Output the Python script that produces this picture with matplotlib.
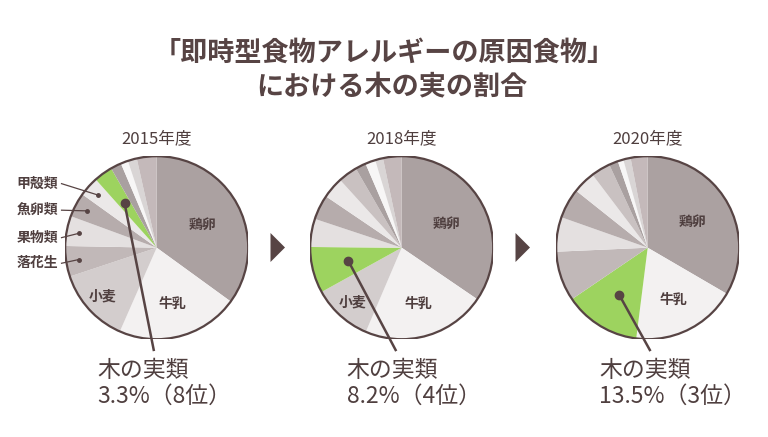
import matplotlib
matplotlib.use("Agg")
import matplotlib.pyplot as plt
from matplotlib.patches import Circle, Polygon
import numpy as np

plt.rcParams['font.family'] = ['Noto Sans CJK JP', 'DejaVu Sans']

W, H = 768, 437
brown = "#574444"
text_col = "#4f3f3f"
green = "#9dd35f"

title_1 = "「即時型食物アレルギーの原因食物」"
title_2 = "における木の実の割合"
years = ["2015年度", "2018年度", "2020年度"]

# slices in ranking order, clockwise from 12 o'clock (last four are unlabeled in the chart)
cats_2015 = ["鶏卵", "牛乳", "小麦", "落花生", "果物類", "魚卵類", "甲殻類", "木の実類", "魚類", "ソバ", "大豆", "その他"]
vals_2015 = [35.0, 21.6, 13.3, 5.4, 5.3, 4.3, 3.5, 3.3, 1.9, 1.3, 1.6, 3.5]

cats_2018 = ["鶏卵", "牛乳", "小麦", "木の実類", "落花生", "魚卵類", "果物類", "甲殻類", "魚類", "ソバ", "大豆", "その他"]
vals_2018 = [34.7, 22.0, 10.6, 8.2, 5.0, 4.4, 3.8, 3.4, 1.9, 1.8, 1.4, 3.3]

cats_2020 = ["鶏卵", "牛乳", "木の実類", "小麦", "落花生", "魚卵類", "果物類", "甲殻類", "魚類", "ソバ", "大豆", "その他"]
vals_2020 = [33.4, 18.6, 13.5, 8.8, 6.1, 5.3, 4.0, 3.4, 1.6, 1.0, 1.3, 3.0]

inner_2015 = ["鶏卵", "牛乳", "小麦"]
inner_2018 = ["鶏卵", "牛乳", "小麦"]
inner_2020 = ["鶏卵", "牛乳"]
outer_2015 = ["甲殻類", "魚卵類", "果物類", "落花生"]

# colour by slice position, the nut slice is overridden with green
palette = ["#aba1a1", "#f3f1f1", "#d3cdcd", "#c1b8b8", "#e4e0e0", "#b6acac",
           "#ebe8e8", "#c9c1c1", "#a9a0a0", "#f7f6f6", "#d9d5d5", "#c4b9ba"]

# layout (pixels)
centers_x = [156.7, 401.7, 647.7]
center_y = 247.7
radius = 91.5
inner_dist = {"鶏卵": 0.56, "牛乳": 0.64, "小麦": 0.8}
outer_text_y = [0.70, 0.41, 0.11, -0.17]
lead_end_dx = [-0.03, -0.06, 0.03]
note_x = [-0.65, -0.60, -0.53]

fig = plt.figure(figsize=(W / 100, H / 100), dpi=100)
fig.patch.set_facecolor("white")

fig.text(384 / W, 1 - 53 / H, title_1, ha="center", va="center",
         fontsize=19.5, fontweight="bold", color=brown)
fig.text(392 / W, 1 - 87 / H, title_2, ha="center", va="center",
         fontsize=19.5, fontweight="bold", color=brown)

all_cats = [cats_2015, cats_2018, cats_2020]
all_vals = [vals_2015, vals_2018, vals_2020]
all_inner = [inner_2015, inner_2018, inner_2020]

for i in range(3):
    cats, vals = all_cats[i], all_vals[i]
    cx = centers_x[i]
    ax = fig.add_axes([(cx - radius) / W, (H - center_y - radius) / H,
                       2 * radius / W, 2 * radius / H])
    cols = [green if c == "木の実類" else palette[k] for k, c in enumerate(cats)]
    wedges, _ = ax.pie(vals, colors=cols, startangle=90, counterclock=False,
                       radius=1, wedgeprops=dict(linewidth=0))
    ax.add_patch(Circle((0, 0), 1, fill=False, ec=brown, lw=1.6, zorder=5))
    ax.set_aspect("equal")
    ax.set_xlim(-1, 1)
    ax.set_ylim(-1, 1)
    ax.axis("off")

    ax.text(0, 1.19, years[i], ha="center", va="center", fontsize=12,
            color=text_col)

    def mid(name):
        w = wedges[cats.index(name)]
        return np.deg2rad((w.theta1 + w.theta2) / 2)

    for name in all_inner[i]:
        a = mid(name)
        d = inner_dist[name]
        ax.text(d * np.cos(a), d * np.sin(a), name, ha="center", va="center",
                fontsize=10, fontweight="bold", color=text_col)

    if i == 0:
        for name, ty in zip(outer_2015, outer_text_y):
            a = mid(name)
            ex, ey = 0.86 * np.cos(a), 0.86 * np.sin(a)
            ax.plot([-1.04, ex], [ty, ey], color=brown, lw=0.9, clip_on=False)
            ax.plot(ex, ey, "o", ms=2.5, color=brown, clip_on=False)
            ax.text(-1.08, ty, name, ha="right", va="center", fontsize=10,
                    fontweight="bold", color=text_col, clip_on=False)

    k = cats.index("木の実類")
    a = mid("木の実類")
    dx, dy = 0.6 * np.cos(a), 0.6 * np.sin(a)
    ax.plot([dx, lead_end_dx[i]], [dy, -1.13], color=brown, lw=1.8,
            clip_on=False, zorder=6, solid_capstyle="butt")
    ax.plot(dx, dy, "o", ms=6, color=brown, zorder=7)
    ax.text(note_x[i], -1.337, "木の実類", ha="left", va="center",
            fontsize=16.5, color=text_col, clip_on=False)
    ax.text(note_x[i], -1.62, f"{vals[k]:.1f}%（{k + 1}位）", ha="left",
            va="center", fontsize=16.5, color=text_col, clip_on=False)

# arrows between the pies
for x0 in [270.5, 515.5]:
    pts = [(x0 / W, 1 - 233 / H), (x0 / W, 1 - 262 / H), ((x0 + 14.5) / W, 1 - 247.5 / H)]
    fig.patches.append(Polygon(pts, closed=True, transform=fig.transFigure,
                               fc=brown, ec="none"))

fig.savefig("out.png", dpi=100, facecolor="white")
